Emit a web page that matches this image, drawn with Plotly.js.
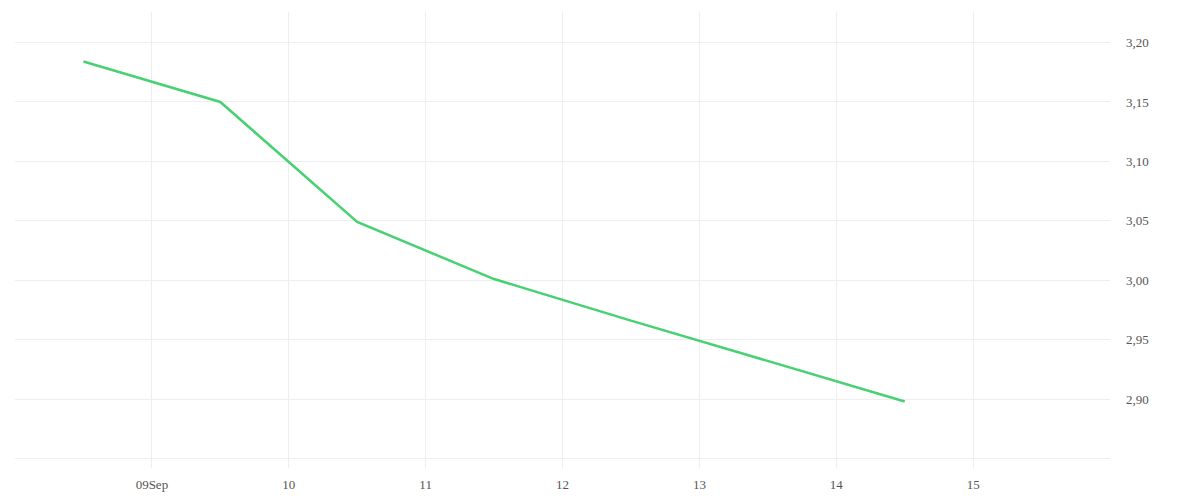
<!DOCTYPE html>
<html>
<head>
<meta charset="utf-8">
<script src="https://cdn.plot.ly/plotly-3.0.1.min.js"></script>
<style>
  html, body { margin: 0; padding: 0; background: #fff; }
  #plot { width: 1200px; height: 500px; }
</style>
</head>
<body>
<div id="plot"></div>
<script>
// valores (um ponto por dia, ao meio-dia)
const datas = ["2024-09-08 12:00", "2024-09-09 12:00", "2024-09-10 12:00", "2024-09-11 12:00",
               "2024-09-12 12:00", "2024-09-13 12:00", "2024-09-14 12:00"];
const valores = [3.184, 3.150, 3.049, 3.001, 2.966, 2.932, 2.898];

// ticks do eixo x (as bordas ficam sem rótulo)
const xTicks = ["2024-09-08", "2024-09-09", "2024-09-10", "2024-09-11", "2024-09-12",
                "2024-09-13", "2024-09-14", "2024-09-15", "2024-09-16"];
const xRotulos = ["", "09Sep", "10", "11", "12", "13", "14", "15", ""];

// ticks do eixo y
const yTicks = [2.85, 2.90, 2.95, 3.00, 3.05, 3.10, 3.15, 3.20];
const yRotulos = ["", "2,90", "2,95", "3,00", "3,05", "3,10", "3,15", "3,20"];

const linha = {
    x: datas,
    y: valores,
    type: 'scatter',
    mode: 'lines',
    line: { color: 'rgb(72, 209, 115)', width: 2.5 },
    hoverinfo: 'x+y'
};

const layout = {
    width: 1200,
    height: 500,
    margin: { l: 15, r: 75, t: 12, b: 32 },
    paper_bgcolor: '#fff',
    plot_bgcolor: '#fff',
    showlegend: false,
    separators: ',.',
    font: { family: 'Liberation Serif, serif', size: 13, color: '#555' },
    xaxis: {
        type: 'date',
        domain: [0, 0.9865],
        range: ["2024-09-08", "2024-09-16"],
        tickmode: 'array',
        tickvals: xTicks,
        ticktext: xRotulos,
        showgrid: true,
        gridcolor: '#eeeeee',
        gridwidth: 1,
        zeroline: false,
        showline: false,
        ticks: 'outside',
        ticklen: 4,
        tickcolor: '#ffffff'
    },
    yaxis: {
        side: 'right',
        anchor: 'free',
        position: 1,
        range: [2.842, 3.2257],
        tickmode: 'array',
        tickvals: yTicks,
        ticktext: yRotulos,
        showgrid: true,
        gridcolor: '#eeeeee',
        gridwidth: 1,
        zeroline: false,
        showline: false,
        ticks: ''
    }
};

Plotly.newPlot('plot', [linha], layout, { displayModeBar: false, staticPlot: true });
</script>
</body>
</html>
